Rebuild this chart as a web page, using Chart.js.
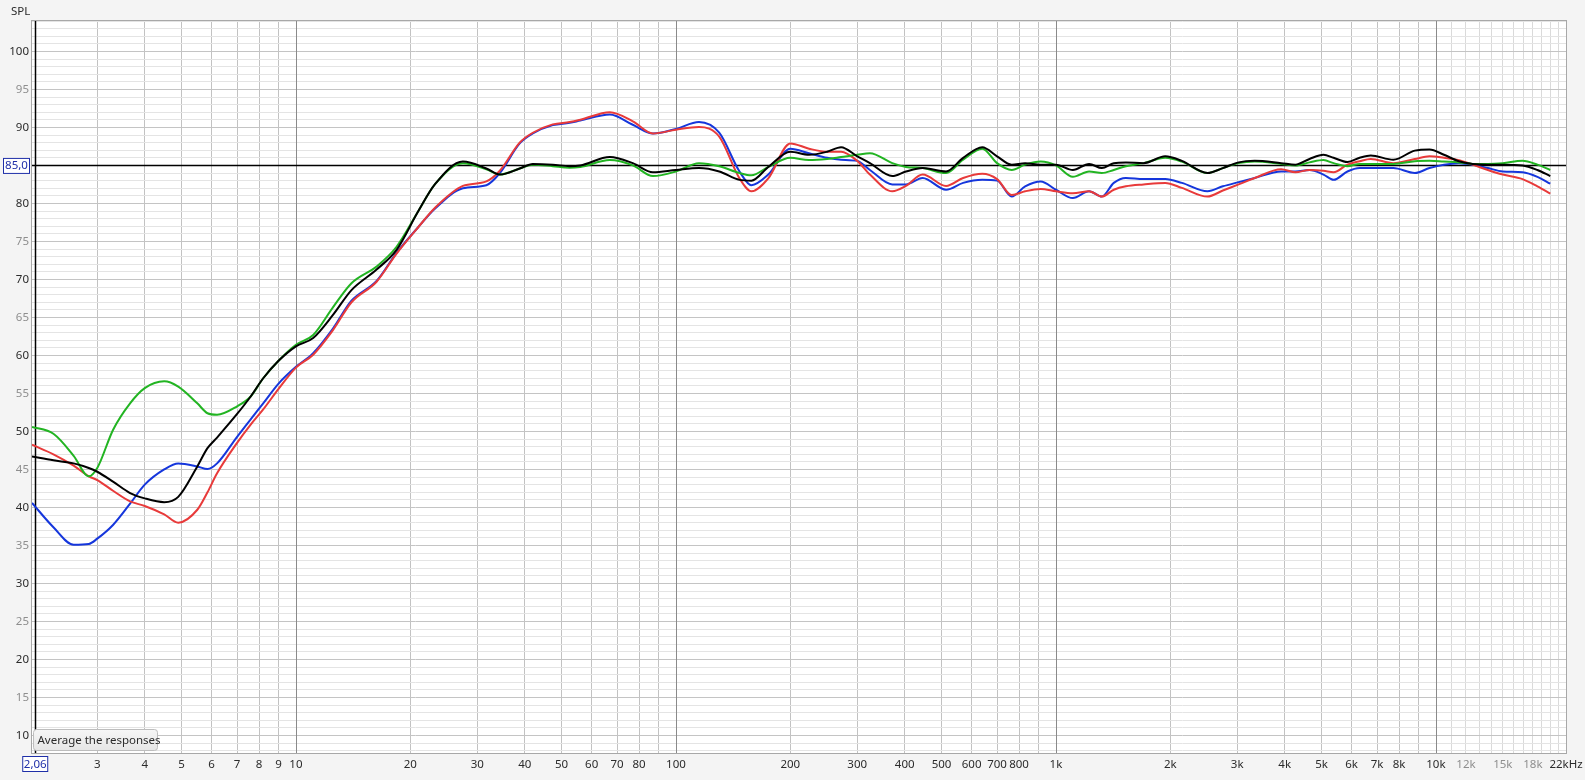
<!DOCTYPE html>
<html>
<head>
<meta charset="utf-8">
<script src="https://cdn.jsdelivr.net/npm/chart.js@4.4.1/dist/chart.umd.min.js"></script>
<style>
  html, body { margin: 0; padding: 0; background: #f4f4f4; }
  canvas { display: block; }
</style>
</head>
<body>
<canvas id="c" width="1585" height="780"></canvas>
<script>
// ---- data (Hz / dB SPL) ----
const freqHz = [2.02, 2.3, 2.6, 2.85, 3.0, 3.3, 3.66, 4.0, 4.5, 4.9,
  5.5, 5.85, 6.2, 7.0, 7.6, 8.2, 9.0, 10, 11.1, 12.5,
  14, 16.3, 18.4, 21, 23.2, 27.5, 31.7, 34.4, 38.8, 42,
  47.4, 52.5, 56, 67, 77, 87, 100, 115, 130, 147,
  158, 175, 200, 224, 250, 272, 300, 324, 371, 403,
  446, 514, 570, 640, 700, 765, 830, 912, 1000, 1108,
  1223, 1321, 1420, 1528, 1700, 1939, 2145, 2505, 2750, 3026,
  3336, 3916, 4269, 4650, 5060, 5380, 5850, 6300, 6740, 7727,
  8800, 9620, 10500, 11500, 12500, 13700, 15000, 16900, 18500, 20000];

const greenDb = [50.6, 49.7, 46.8, 44.1, 45.2, 50.2, 53.7, 55.7, 56.6, 55.9,
  53.7, 52.4, 52.2, 53.3, 54.6, 57.0, 59.3, 61.4, 62.7, 66.3,
  69.5, 71.7, 74.3, 79.0, 82.5, 85.3, 84.5, 83.8, 84.6, 85.1,
  84.9, 84.7, 84.8, 85.7, 85.0, 83.6, 84.2, 85.3, 84.9, 84.0,
  83.7, 84.8, 86.0, 85.7, 85.85, 86.1, 86.4, 86.6, 85.3, 84.8,
  84.65, 84.0, 85.75, 87.2, 85.3, 84.4, 85.1, 85.5, 85.0, 83.5,
  84.2, 84.0, 84.4, 84.9, 85.3, 86.0, 85.5, 84.0, 84.65, 85.3,
  85.5, 85.2, 85.0, 85.4, 85.7, 85.3, 84.9, 85.2, 85.2, 85.2,
  85.55, 85.6, 85.5, 85.4, 85.2, 85.2, 85.3, 85.6, 85.1, 84.4];

const blackDb = [46.7, 46.2, 45.8, 45.2, 44.7, 43.4, 41.9, 41.2, 40.7, 41.4,
  45.4, 47.8, 49.2, 52.3, 54.6, 57.0, 59.3, 61.2, 62.3, 65.3,
  68.6, 71.3, 73.9, 79.0, 82.5, 85.5, 84.6, 83.8, 84.6, 85.2,
  85.1, 84.9, 85.0, 86.1, 85.3, 84.1, 84.4, 84.65, 84.2, 83.1,
  83.0, 84.8, 86.8, 86.4, 86.8, 87.4, 86.2, 85.3, 83.6, 84.2,
  84.65, 84.2, 86.0, 87.4, 86.2, 85.1, 85.3, 85.1, 85.1, 84.4,
  85.2, 84.65, 85.3, 85.4, 85.3, 86.2, 85.6, 84.0, 84.65, 85.4,
  85.6, 85.3, 85.1, 85.85, 86.4, 86.0, 85.45, 86.0, 86.3, 85.75,
  86.95, 87.1, 86.4, 85.55, 85.2, 85.1, 85.1, 85.0, 84.4, 83.6];

const redDb = [48.25, 47.0, 45.5, 44.1, 43.6, 42.2, 40.8, 40.2, 39.1, 38.0,
  39.7, 42.0, 44.5, 48.5, 50.9, 52.9, 55.6, 58.4, 60.1, 63.3,
  67.0, 69.7, 73.4, 76.9, 79.4, 82.3, 82.9, 84.3, 88.0, 89.3,
  90.4, 90.7, 91.0, 92.0, 90.8, 89.2, 89.7, 90.05, 88.8, 83.3,
  81.6, 83.3, 87.9, 87.2, 86.8, 86.8, 85.6, 83.8, 81.6, 82.3,
  83.8, 82.3, 83.35, 83.9, 83.2, 81.1, 81.6, 81.9, 81.6, 81.35,
  81.6, 80.9, 81.8, 82.25, 82.5, 82.7, 82.05, 80.9, 81.7, 82.5,
  83.35, 84.5, 84.1, 84.4, 84.3, 84.1, 85.1, 85.55, 85.85, 85.3,
  85.85, 86.2, 86.0, 85.7, 85.1, 84.4, 83.8, 83.2, 82.25, 81.3];

const blueDb = [40.6, 37.4, 35.1, 35.2, 35.9, 37.7, 40.5, 43.0, 45.0, 45.8,
  45.4, 45.05, 45.8, 49.3, 51.6, 53.7, 56.3, 58.5, 60.3, 63.5,
  67.2, 69.8, 73.5, 76.9, 79.3, 82.0, 82.4, 84.0, 87.9, 89.2,
  90.3, 90.6, 90.9, 91.7, 90.35, 89.2, 89.8, 90.7, 89.3, 84.2,
  82.4, 83.8, 87.2, 86.6, 86.0, 85.75, 85.6, 84.4, 82.5, 82.5,
  83.35, 81.8, 82.7, 83.1, 83.0, 80.9, 82.25, 82.9, 81.8, 80.7,
  81.6, 80.9, 82.7, 83.35, 83.2, 83.2, 82.7, 81.6, 82.25, 82.8,
  83.35, 84.2, 84.2, 84.4, 83.8, 83.1, 84.2, 84.65, 84.65, 84.65,
  84.0, 84.65, 85.1, 85.3, 85.1, 84.65, 84.2, 84.1, 83.5, 82.6];

// axis ticks
const xTickHz = [3,4,5,6,7,8,9,10,20,30,40,50,60,70,80,90,100,200,300,400,500,600,700,800,900,
  1000,2000,3000,4000,5000,6000,7000,8000,9000,10000,11000,12000,13000,14000,15000,16000,
  17000,18000,19000,20000,21000,22000];
const xTickLabels = ['3','4','5','6','7','8','9','10','20','30','40','50','60','70','80','','100','200','300','400','500','600','700','800','',
  '1k','2k','3k','4k','5k','6k','7k','8k','','10k','','12k','','','15k','','','18k','','','','22kHz'];
const xGrayLabels = ['12k','15k','18k'];
const decadeHz = [10, 100, 1000, 10000];
const yMinDb = 7.7, yMaxDb = 104;
const markerHz = 2.06, markerDb = 85;
const markerHzText = '2,06', markerDbText = '85,0';
const axisTitle = 'SPL';
const tipText = 'Average the responses';

const FONT = '"Noto Sans", "Open Sans", sans-serif';
const pts = arr => freqHz.map((f, i) => ({ x: f, y: arr[i] }));

const overlay = {
  id: 'overlay',
  beforeDraw(chart) {
    const { ctx, chartArea: a } = chart;
    ctx.save();
    ctx.fillStyle = '#ffffff';
    ctx.fillRect(a.left, a.top, a.right - a.left, a.bottom - a.top);
    ctx.restore();
  },
  beforeDatasetsDraw(chart) {
    const { ctx, chartArea: a, scales } = chart;
    ctx.save();
    // decade grid lines, solid over the horizontal grid
    ctx.strokeStyle = '#8a8a8a';
    ctx.lineWidth = 1;
    decadeHz.forEach(f => {
      const px = Math.round(scales.x.getPixelForValue(f)) + 0.5;
      ctx.beginPath(); ctx.moveTo(px, a.top); ctx.lineTo(px, a.bottom); ctx.stroke();
    });
    ctx.strokeStyle = '#000';
    ctx.lineWidth = 1.5;
    const yy = Math.round(scales.y.getPixelForValue(markerDb)) + 0.5;
    ctx.beginPath(); ctx.moveTo(a.left, yy); ctx.lineTo(a.right, yy); ctx.stroke();
    const xx = Math.round(scales.x.getPixelForValue(markerHz)) + 0.5;
    ctx.beginPath(); ctx.moveTo(xx, a.top); ctx.lineTo(xx, a.bottom); ctx.stroke();
    ctx.restore();
  },
  afterDraw(chart) {
    const { ctx, chartArea: a, scales } = chart;
    ctx.save();
    // plot border
    ctx.strokeStyle = '#a8a8a8';
    ctx.lineWidth = 1;
    ctx.strokeRect(a.left - 0.5, a.top - 0.5, a.right - a.left + 1, a.bottom - a.top + 1);
    // axis title
    ctx.fillStyle = '#2b2b2b';
    ctx.font = '11.5px ' + FONT;
    ctx.textAlign = 'left'; ctx.textBaseline = 'middle';
    ctx.fillText(axisTitle, 11, 12);
    // 85,0 marker box
    const yy = scales.y.getPixelForValue(markerDb);
    ctx.fillStyle = '#ffffff';
    ctx.fillRect(3.5, yy - 7, 26, 15);
    ctx.strokeStyle = '#1f2fa8';
    ctx.strokeRect(3.5, yy - 7, 26, 15);
    ctx.fillStyle = '#1f2fa8';
    ctx.textAlign = 'center';
    ctx.fillText(markerDbText, 16.5, yy + 0.5);
    // 2,06 marker box
    const xx = scales.x.getPixelForValue(markerHz);
    ctx.fillStyle = '#ffffff';
    ctx.fillRect(xx - 12.5, 756.5, 25, 15);
    ctx.strokeStyle = '#1f2fa8';
    ctx.strokeRect(xx - 12.5, 756.5, 25, 15);
    ctx.fillStyle = '#1f2fa8';
    ctx.fillText(markerHzText, xx, 764.5);
    // tooltip
    const tx = 33.5, ty = 729.5, tw = 124, th = 21, r = 3;
    const g = ctx.createLinearGradient(0, ty, 0, ty + th);
    g.addColorStop(0, '#f6f6f6'); g.addColorStop(1, '#e6e6e6');
    ctx.beginPath();
    ctx.moveTo(tx + r, ty); ctx.lineTo(tx + tw - r, ty); ctx.arcTo(tx + tw, ty, tx + tw, ty + r, r);
    ctx.lineTo(tx + tw, ty + th - r); ctx.arcTo(tx + tw, ty + th, tx + tw - r, ty + th, r);
    ctx.lineTo(tx + r, ty + th); ctx.arcTo(tx, ty + th, tx, ty + th - r, r);
    ctx.lineTo(tx, ty + r); ctx.arcTo(tx, ty, tx + r, ty, r); ctx.closePath();
    ctx.fillStyle = g; ctx.fill();
    ctx.strokeStyle = '#bdbdbd'; ctx.stroke();
    ctx.fillStyle = '#2b2b2b';
    ctx.textAlign = 'left';
    ctx.fillText(tipText, tx + 4, ty + th / 2 + 0.5);
    ctx.restore();
  }
};

const ds = (label, arr, color) => ({
  label, data: pts(arr), borderColor: color, borderWidth: 2, pointRadius: 0,
  cubicInterpolationMode: 'monotone', fill: false
});

new Chart(document.getElementById('c'), {
  type: 'line',
  data: {
    datasets: [
      ds('black', blackDb, '#000000'),
      ds('green', greenDb, '#22b422'),
      ds('red', redDb, '#e83a3a'),
      ds('blue', blueDb, '#1536dc')
    ]
  },
  options: {
    responsive: false,
    animation: false,
    devicePixelRatio: 1,
    layout: { padding: { top: 21, right: 19, left: 0, bottom: 0 } },
    plugins: { legend: { display: false }, tooltip: { enabled: false } },
    scales: {
      x: {
        type: 'logarithmic',
        min: 2.02, max: 22000,
        afterBuildTicks(scale) { scale.ticks = xTickHz.map(v => ({ value: v })); },
        afterFit(scale) { scale.height = 27; scale.paddingLeft = 0; scale.paddingRight = 0; },
        border: { display: false },
        grid: {
          drawTicks: false,
          color(c) {
            const v = c.tick ? c.tick.value : 0;
            if (decadeHz.includes(v)) return 'rgba(0,0,0,0)';
            if (v > 10000) return '#dadada';
            return '#c2c2c2';
          },
          lineWidth: 1
        },
        ticks: {
          autoSkip: false, maxRotation: 0, minRotation: 0, padding: 5,
          font: { family: FONT, size: 11.5 },
          color(c) {
            const i = xTickHz.indexOf(c.tick.value);
            return xGrayLabels.includes(xTickLabels[i]) ? '#8e8e8e' : '#2b2b2b';
          },
          callback(v) { const i = xTickHz.indexOf(v); return i >= 0 ? xTickLabels[i] : ''; }
        }
      },
      y: {
        type: 'linear',
        min: yMinDb, max: yMaxDb,
        afterBuildTicks(scale) {
          const t = [];
          for (let v = Math.ceil(yMinDb); v <= Math.floor(yMaxDb); v++) t.push({ value: v });
          scale.ticks = t;
        },
        afterFit(scale) { scale.width = 32; scale.paddingTop = 0; scale.paddingBottom = 0; },
        border: { display: false },
        grid: {
          drawTicks: false,
          color(c) { const v = c.tick ? c.tick.value : 0; return v % 5 === 0 ? '#c4c4c4' : '#e4e4e4'; },
          lineWidth: 1
        },
        ticks: {
          autoSkip: false, padding: 3,
          font: { family: FONT, size: 11.5 },
          color(c) { return c.tick.value % 10 === 0 ? '#2b2b2b' : '#8e8e8e'; },
          callback(v) { return (v % 5 === 0 && v >= 10 && v <= 100 && v !== markerDb) ? String(v) : ''; }
        }
      }
    }
  },
  plugins: [overlay]
});
</script>
</body>
</html>
